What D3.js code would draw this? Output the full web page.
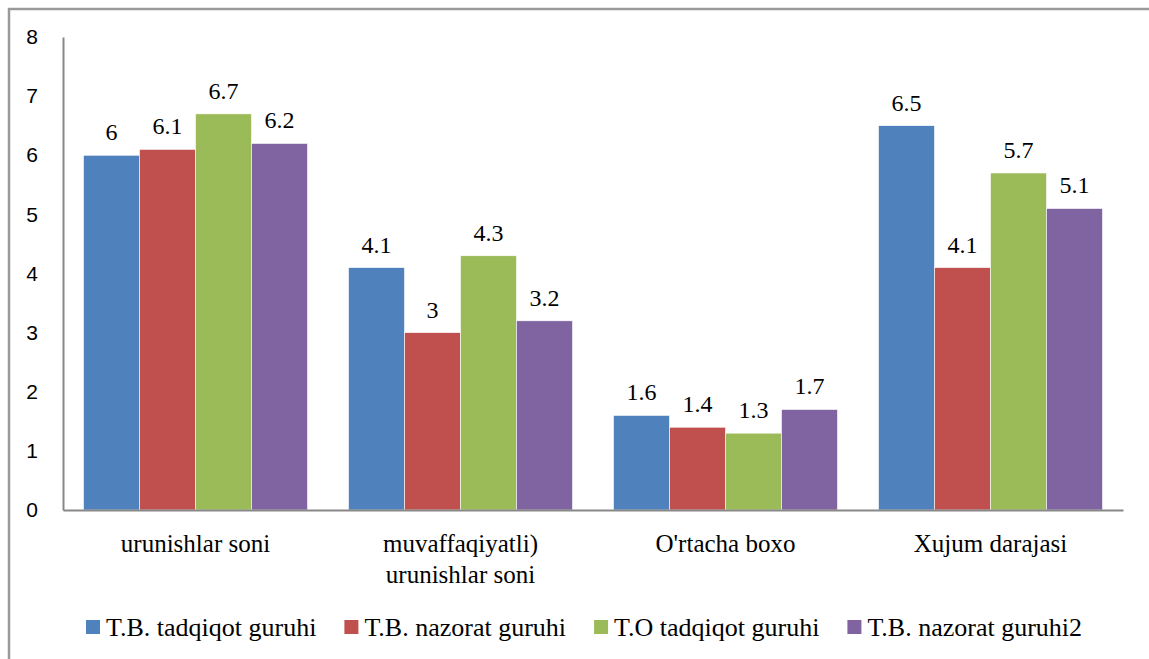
<!DOCTYPE html>
<html>
<head>
<meta charset="utf-8">
<script src="https://cdn.jsdelivr.net/npm/d3@7"></script>
<style>
  body { margin: 0; background: #fff; }
  svg { display: block; }
</style>
</head>
<body>
<div id="chart"></div>
<script>
// data
const categories = ['urunishlar soni', 'muvaffaqiyatli)|urunishlar soni', "O'rtacha boxo", 'Xujum darajasi']
const seriesNames = ['T.B. tadqiqot guruhi', 'T.B. nazorat guruhi', 'T.O tadqiqot guruhi', 'T.B. nazorat guruhi2']
const seriesColors = ['#4F81BD', '#C0504D', '#9BBB59', '#8064A2']
const s1 = [6, 4.1, 1.6, 6.5]
const s2 = [6.1, 3, 1.4, 4.1]
const s3 = [6.7, 4.3, 1.3, 5.7]
const s4 = [6.2, 3.2, 1.7, 5.1]
const yTicks = [0, 1, 2, 3, 4, 5, 6, 7, 8]

const serif = "'Liberation Serif', 'Times New Roman', serif"
const sans = "'Liberation Sans', Arial, sans-serif"

const width = 1149, height = 659
const margin = { top: 37, bottom: 149, left: 63, right: 26 }

const svg = d3.select('#chart').append('svg')
    .attr('width', width).attr('height', height)

// outer frame (only top and left visible)
svg.append('path')
    .attr('d', `M9,${height} L9,9 L${width},9`)
    .attr('fill', 'none')
    .attr('stroke', '#9a9a9a')
    .attr('stroke-width', 2.5)

const values = [s1, s2, s3, s4]
const rows = []
categories.forEach((c, i) => {
    seriesNames.forEach((s, j) => {
        rows.push({ cat: c, series: s, j: j, value: values[j][i] })
    })
})

const x0 = d3.scaleBand()
    .domain(categories)
    .range([margin.left, width - margin.right])
    .paddingInner(0).paddingOuter(0)

const x1 = d3.scaleBand()
    .domain(seriesNames)
    .range([20.5, x0.bandwidth() - 20.5])

const y = d3.scaleLinear()
    .domain([0, 8])
    .range([height - margin.bottom, margin.top])

// y axis
const yAxis = svg.append('g')
    .attr('transform', `translate(${margin.left},0)`)
    .call(d3.axisLeft(y).tickValues(yTicks).tickSize(0).tickPadding(31))
yAxis.attr('font-family', sans).attr('font-size', 21)
yAxis.select('.domain').attr('stroke', '#888').attr('stroke-width', 2)
yAxis.selectAll('text')
    .attr('fill', '#000')
    .attr('text-anchor', 'middle')

// bars
svg.append('g').selectAll('rect')
    .data(rows)
    .join('rect')
    .attr('x', d => x0(d.cat) + x1(d.series))
    .attr('y', d => y(d.value))
    .attr('width', x1.bandwidth())
    .attr('height', d => y(0) - y(d.value))
    .attr('fill', d => seriesColors[d.j])
    .attr('stroke', '#fff')
    .attr('stroke-width', 0.6)

// value labels
svg.append('g')
    .attr('font-family', serif).attr('font-size', 24)
    .selectAll('text')
    .data(rows)
    .join('text')
    .attr('x', d => x0(d.cat) + x1(d.series) + x1.bandwidth() / 2)
    .attr('y', d => y(d.value) - 15)
    .attr('text-anchor', 'middle')
    .text(d => d.value)

// x axis line
const xAxis = svg.append('g')
    .attr('transform', `translate(0,${y(0)})`)
    .call(d3.axisBottom(x0).tickSize(0).tickFormat(''))
xAxis.select('.domain').attr('stroke', '#888').attr('stroke-width', 2)

// category labels (two lines where needed)
const catLabels = svg.append('g')
    .attr('font-family', serif).attr('font-size', 25)
    .selectAll('text')
    .data(categories)
    .join('text')
    .attr('x', d => x0(d) + x0.bandwidth() / 2)
    .attr('y', y(0) + 42)
    .attr('text-anchor', 'middle')
catLabels.each(function(d) {
    const parts = d.split('|')
    parts.forEach((p, i) => {
        d3.select(this).append('tspan')
            .attr('x', x0(d) + x0.bandwidth() / 2)
            .attr('dy', i === 0 ? 0 : 31)
            .text(p)
    })
})

// legend
const legend = svg.append('g')
    .attr('transform', 'translate(86,627)')
    .attr('font-family', serif).attr('font-size', 26)
let lx = 0
seriesNames.forEach((s, j) => {
    const g = legend.append('g').attr('transform', `translate(${lx},0)`)
    g.append('rect')
        .attr('x', 0).attr('y', -7)
        .attr('width', 14).attr('height', 14)
        .attr('fill', seriesColors[j])
    const t = g.append('text')
        .attr('x', 20).attr('y', 9)
        .text(s)
    lx += 20 + t.node().getComputedTextLength() + 28
})
</script>
</body>
</html>
